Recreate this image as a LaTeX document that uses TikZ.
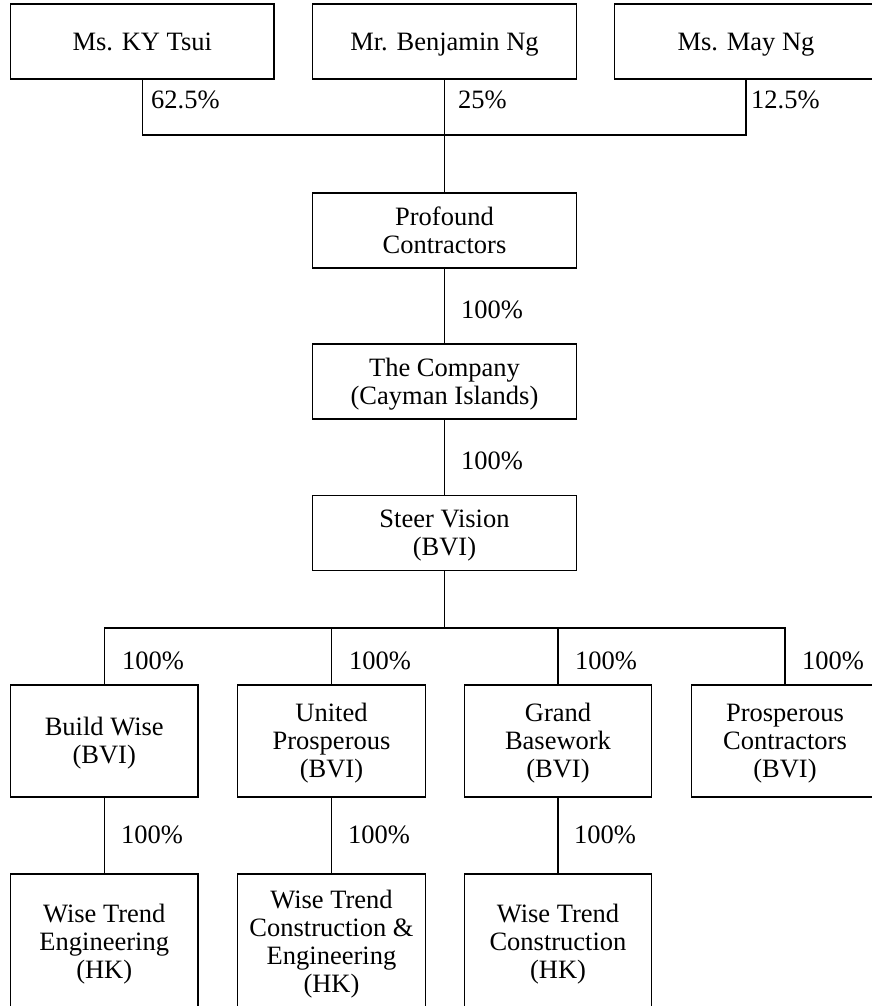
\documentclass[tikz,border=0pt]{standalone}
\usepackage{fontspec}
\setmainfont{Liberation Serif}
\newcommand{\orgfont}{\fontsize{26.5pt}{28pt}\selectfont}
\newcommand{\dd}{\rule[-0.2em]{0pt}{0.2em}}
\newcommand{\uu}{\rule{0pt}{0.86em}}
\tikzset{
  orgbox/.style={draw, line width=1.1pt, inner sep=0pt, align=center,
    font=\orgfont},
  topbox/.style={orgbox, minimum width=263.5pt, minimum height=75pt},
  subbox/.style={orgbox, minimum width=187.5pt, minimum height=112pt},
  lowbox/.style={orgbox, minimum width=187.5pt, minimum height=135pt},
  pct/.style={anchor=base west, inner sep=0pt, font=\orgfont},
  link/.style={line width=1.1pt}
}
\begin{document}
\begin{tikzpicture}[x=1pt, y=-1pt]
\useasboundingbox (0,0) rectangle (872,1006);
\clip (0,0) rectangle (872,1006);
% shareholders
\node[topbox] (kyt) at (142.25,41.5) {\uu Ms. KY Tsui\dd};
\node[topbox] (bng) at (444.5,41.5) {\uu Mr. Benjamin Ng\dd};
\node[topbox] (mng) at (746,41.5) {\uu Ms. May Ng\dd};
% chain
\node[topbox] (pc) at (444.5,230.5) {\uu Profound\\Contractors\dd};
\node[topbox] (co) at (444.5,381.5) {\uu The Company\\(Cayman Islands)\dd};
\node[topbox] (sv) at (444.5,533) {\uu Steer Vision\\(BVI)\dd};
% subsidiaries
\node[subbox] (bw)  at (104.25,741) {\uu Build Wise\\(BVI)\dd};
\node[subbox] (up)  at (331.5,741) {\uu United\\Prosperous\\(BVI)\dd};
\node[subbox] (gb)  at (558,741) {\uu Grand\\Basework\\(BVI)\dd};
\node[subbox] (pcb) at (785,741) {\uu Prosperous\\Contractors\\(BVI)\dd};
% HK companies
\node[lowbox] (wte)  at (104.25,941.5) {\uu Wise Trend\\Engineering\\(HK)\dd};
\node[lowbox] (wtce) at (331.5,941.5) {\uu Wise Trend\\Construction \&\\Engineering\\(HK)\dd};
\node[lowbox] (wtc)  at (558,941.5) {\uu Wise Trend\\Construction\\(HK)\dd};
% buses
\coordinate (b1) at (444.5,135);
\coordinate (b2) at (444.5,628);
% connectors
\draw[link] (kyt.south) |- (b1) -| (mng.south);
\draw[link] (bng.south) -- (pc.north);
\draw[link] (pc.south) -- (co.north);
\draw[link] (co.south) -- (sv.north);
\draw[link] (sv.south) -- (b2);
\draw[link] (bw.north) |- (b2) -| (pcb.north);
\draw[link] (up.north) -- (up.north |- b2);
\draw[link] (gb.north) -- (gb.north |- b2);
\draw[link] (bw.south) -- (wte.north);
\draw[link] (up.south) -- (wtce.north);
\draw[link] (gb.south) -- (wtc.north);
% percentages
\node[pct] (p1) at (151,109) {62.5\%};
\node[pct] (p2) at (458,109) {25\%};
\node[pct] (p3) at (751,109) {12.5\%};
\node[pct] (p4) at (461,318) {100\%};
\node[pct] (p5) at (461,469) {100\%};
\node[pct] (p6) at (122,669) {100\%};
\node[pct] (p7) at (349,669) {100\%};
\node[pct] (p8) at (575,669) {100\%};
\node[pct] (p9) at (802,669) {100\%};
\node[pct] (p10) at (121,843) {100\%};
\node[pct] (p11) at (348,843) {100\%};
\node[pct] (p12) at (574,843) {100\%};
\end{tikzpicture}
\end{document}
